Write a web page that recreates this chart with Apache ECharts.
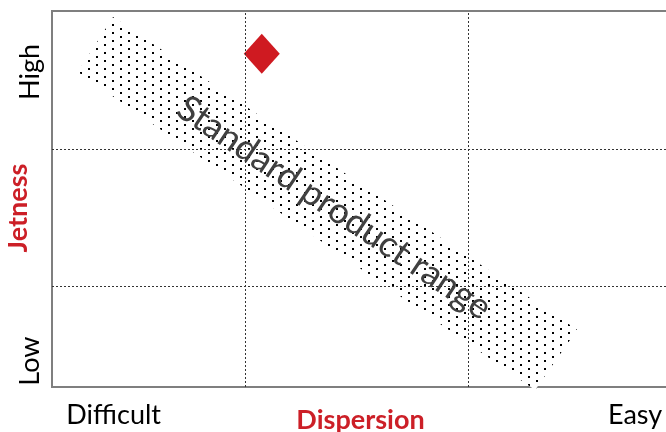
<!DOCTYPE html>
<html>
<head>
<meta charset="utf-8">
<script src="https://cdn.jsdelivr.net/npm/echarts@6/dist/echarts.min.js"></script>
<style>
  html, body { margin: 0; padding: 0; background: #fff; }
  #main { width: 666px; height: 432px; }
</style>
</head>
<body>
<div id="main"></div>
<script>
// quadrant dividers (axis units 0-100)
var xDividers = [31.3, 67.4];
var yDividers = [63.3, 26.9];
// axis end labels
var xLabels = ['Difficult', 'Easy'];
var xLabelPos = [10.0, 94.5];
var yLabels = ['Low', 'High'];
var yLabelPos = [6.9, 83.8];
// standard range band corners: top, left, bottom, right
var bandX = [9.9, 4.2, 78.3, 85.1];
var bandY = [98.4, 83.8, -0.8, 15.2];
var bandText = 'Standard product range';
// product position
var productX = [34.0];
var productY = [88.6];

var red = '#cc1f27';
var font = 'Lato';

// dotted fill tile
var tile = document.createElement('canvas');
tile.width = 16;
tile.height = 8;
var ctx = tile.getContext('2d');
ctx.fillStyle = '#fff';
ctx.fillRect(0, 0, 16, 8);
ctx.fillStyle = '#000';
ctx.fillRect(0, 0, 2, 2);
ctx.fillRect(8, 4, 2, 2);

var chart = echarts.init(document.getElementById('main'));

var option = {
  backgroundColor: '#fff',
  animation: false,
  grid: {
    left: 52,
    top: 11,
    right: -3,
    bottom: 45,
    outerBoundsMode: 'none',
    containLabel: false,
    show: true,
    borderColor: '#7f7f7f',
    borderWidth: 2
  },
  xAxis: {
    type: 'value',
    min: 0,
    max: 100,
    axisLine: { show: true, lineStyle: { color: '#7f7f7f', width: 2 } },
    axisTick: { show: false },
    splitLine: { show: false },
    axisLabel: {
      customValues: xLabelPos,
      formatter: function (v) { return xLabels[xLabelPos.indexOf(v)]; },
      color: '#000',
      fontSize: 27,
      fontFamily: font,
      margin: 15
    },
    name: 'Dispersion',
    nameLocation: 'middle',
    nameGap: 20,
    nameMoveOverlap: false,
    nameTextStyle: { color: red, fontWeight: 'bold', fontSize: 27, fontFamily: font }
  },
  yAxis: {
    type: 'value',
    min: 0,
    max: 100,
    axisLine: { show: true, lineStyle: { color: '#7f7f7f', width: 2 } },
    axisTick: { show: false },
    splitLine: { show: false },
    axisLabel: {
      customValues: yLabelPos,
      formatter: function (v) { return yLabels[yLabelPos.indexOf(v)]; },
      rotate: 90,
      color: '#000',
      fontSize: 27,
      fontFamily: font,
      margin: 8
    },
    name: 'Jetness',
    nameLocation: 'middle',
    nameGap: 20,
    nameMoveOverlap: false,
    nameTextStyle: { color: red, fontWeight: 'bold', fontSize: 27, fontFamily: font, padding: [0, 18, 0, 0] }
  },
  series: [
    {
      // dotted quadrant lines
      type: 'line',
      data: [],
      z: 1,
      markLine: {
        silent: true,
        symbol: ['none', 'none'],
        label: { show: false },
        lineStyle: { type: [2, 2], color: '#333', width: 1 },
        data: xDividers.map(function (x) { return { xAxis: x }; })
          .concat(yDividers.map(function (y) { return { yAxis: y }; }))
      }
    },
    {
      // standard product range band
      type: 'custom',
      z: 2,
      clip: false,
      data: [[0]],
      renderItem: function (params, api) {
        var pts = bandX.map(function (x, i) { return api.coord([x, bandY[i]]); });
        var cx = 0, cy = 0;
        pts.forEach(function (p) { cx += p[0] / 4; cy += p[1] / 4; });
        var ang = Math.atan2(pts[3][1] - pts[0][1], pts[3][0] - pts[0][0]);
        cx += Math.cos(ang) * 10;
        cy += Math.sin(ang) * 10;
        return {
          type: 'group',
          children: [
            {
              type: 'polygon',
              shape: { points: pts },
              style: { fill: { image: tile, repeat: 'repeat' }, stroke: null }
            },
            {
              type: 'text',
              x: cx,
              y: cy,
              rotation: -ang,
              style: {
                text: bandText,
                fill: '#404040',
                font: '36px ' + font,
                align: 'center',
                verticalAlign: 'middle'
              }
            }
          ]
        };
      }
    },
    {
      // product marker
      type: 'scatter',
      z: 3,
      symbol: 'diamond',
      symbolSize: [36, 40],
      itemStyle: { color: '#cf1a21', opacity: 1 },
      data: productX.map(function (x, i) { return [x, productY[i]]; })
    }
  ]
};

chart.setOption(option);
</script>
</body>
</html>
